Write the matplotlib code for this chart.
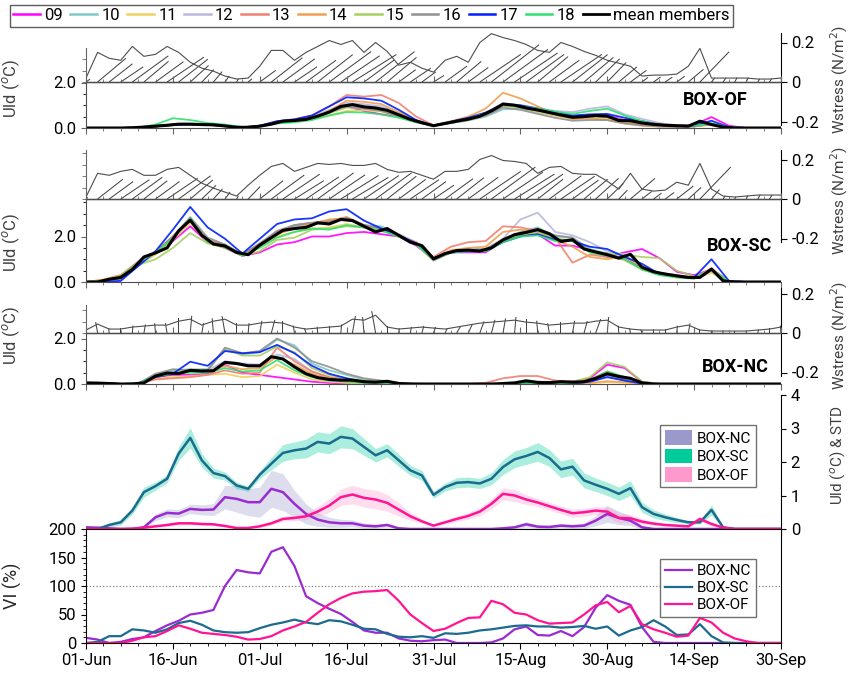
import numpy as np
import matplotlib.pyplot as plt
from matplotlib.lines import Line2D
from matplotlib.patches import Patch
from matplotlib.ticker import MultipleLocator

plt.rcParams['font.family'] = ['Roboto', 'DejaVu Sans']

# ---------------------------------------------------------------- data
days = np.arange(0, 121, 2)      # day since 01-Jun, every 2 days
days_m = np.arange(0, 121, 3)    # member series, every 3 days
tick_labels = ['01-Jun', '16-Jun', '01-Jul', '16-Jul', '31-Jul',
               '15-Aug', '30-Aug', '14-Sep', '30-Sep']

member_names = ['09', '10', '11', '12', '13', '14', '15', '16', '17', '18']
member_colors = ['#ff00ff', '#7fc8c8', '#f0d060', '#b8b8e0', '#f08070',
                 '#f0a050', '#a8d060', '#909090', '#0020ff', '#30e070']

# BOX-OF members
of_members = [
    [0,0,0,0.02,0.07,0.14,0.16,0.15,0.08,0.03, 0.07,0.24,0.3,0.42,0.7,0.95,0.75,0.6,0.5,0.3,
     0.1,0.25,0.38,0.6,1.0,0.95,0.8,0.62,0.5,0.55, 0.55,0.35,0.2,0.1,0.08,0.15,0.48,0.1,0,0, 0],
    [0,0,0,0.02,0.08,0.14,0.16,0.14,0.08,0.03, 0.08,0.25,0.32,0.45,0.72,1.0,0.9,0.8,0.55,0.28,
     0.1,0.22,0.33,0.5,0.82,0.85,0.7,0.55,0.42,0.48, 0.45,0.3,0.18,0.12,0.08,0.08,0.18,0.02,0,0, 0],
    [0,0,0,0.02,0.07,0.13,0.15,0.14,0.08,0.03, 0.07,0.22,0.28,0.38,0.55,0.75,0.78,0.72,0.5,0.26,
     0.1,0.22,0.36,0.6,1.05,0.9,0.72,0.55,0.4,0.45, 0.4,0.25,0.15,0.1,0.08,0.07,0.15,0.02,0,0, 0],
    [0,0,0,0.03,0.08,0.15,0.17,0.16,0.1,0.04, 0.09,0.28,0.35,0.5,0.8,1.1,1.05,0.95,0.65,0.33,
     0.12,0.26,0.4,0.65,1.1,1.0,0.88,0.75,0.7,0.85, 0.95,0.6,0.4,0.22,0.12,0.1,0.2,0.03,0,0, 0],
    [0,0,0,0.03,0.09,0.16,0.18,0.16,0.1,0.04, 0.1,0.3,0.38,0.55,0.95,1.45,1.38,1.45,1.1,0.5,
     0.12,0.25,0.38,0.6,1.0,0.98,0.8,0.6,0.45,0.5, 0.5,0.3,0.15,0.1,0.07,0.08,0.18,0.02,0,0, 0],
    [0,0,0,0.03,0.08,0.15,0.17,0.15,0.09,0.03, 0.08,0.26,0.35,0.45,0.75,1.2,1.15,1.05,0.7,0.32,
     0.12,0.3,0.5,0.85,1.55,1.3,0.95,0.6,0.4,0.42, 0.35,0.2,0.1,0.06,0.05,0.07,0.15,0.02,0,0, 0],
    [0,0,0,0.02,0.07,0.13,0.15,0.14,0.08,0.03, 0.07,0.23,0.3,0.42,0.65,0.9,0.85,0.78,0.52,0.27,
     0.1,0.23,0.37,0.58,0.98,0.9,0.76,0.6,0.48,0.52, 0.5,0.32,0.2,0.12,0.08,0.09,0.2,0.02,0,0, 0],
    [0,0,0,0.02,0.07,0.14,0.16,0.14,0.08,0.03, 0.08,0.25,0.32,0.45,0.7,0.95,0.85,0.75,0.5,0.27,
     0.1,0.22,0.35,0.55,0.9,0.8,0.62,0.45,0.32,0.35, 0.35,0.2,0.12,0.07,0.05,0.07,0.18,0.02,0,0, 0],
    [0,0,0,0.02,0.07,0.14,0.16,0.15,0.09,0.03, 0.1,0.3,0.38,0.55,0.95,1.35,1.3,1.2,0.8,0.35,
     0.1,0.28,0.45,0.68,1.05,1.0,0.85,0.7,0.55,0.6, 0.62,0.45,0.3,0.15,0.1,0.1,0.32,0.04,0,0, 0],
    [0,0,0,0.02,0.15,0.43,0.35,0.22,0.15,0.04, 0.06,0.2,0.25,0.35,0.55,0.7,0.68,0.6,0.45,0.25,
     0.1,0.25,0.4,0.65,1.05,0.95,0.85,0.72,0.62,0.75, 0.85,0.55,0.3,0.15,0.1,0.1,0.2,0.02,0,0, 0],
]

# BOX-SC members
sc_members = [
    [0,0.05,0.25,0.85,1.25,1.8,2.45,1.75,1.5,1.15, 1.3,1.65,1.75,2.0,2.0,2.15,2.2,2.1,2.0,1.6,
     1.0,1.3,1.3,1.3,1.8,2.05,2.1,1.6,1.6,1.4, 1.1,1.3,1.45,1.05,0.45,0.3,0.55,0.05,0,0, 0],
    [0,0.02,0.12,0.7,1.25,1.95,2.75,1.8,1.6,1.2, 1.65,2.15,2.45,2.55,2.6,2.85,2.5,2.45,2.1,1.7,
     1.0,1.3,1.4,1.45,1.85,2.2,2.4,2.0,1.95,1.45, 1.25,1.0,0.6,0.35,0.25,0.2,0.45,0.02,0,0, 0],
    [0,0.05,0.2,0.8,1.2,1.85,2.6,1.75,1.55,1.2, 1.55,2.0,2.2,2.35,2.4,2.55,2.4,2.3,2.0,1.65,
     0.95,1.3,1.35,1.4,1.8,2.1,2.2,1.9,1.85,1.3, 1.15,0.95,0.55,0.35,0.2,0.15,0.4,0.02,0,0, 0],
    [0,0.02,0.18,0.75,1.3,2.0,2.8,1.85,1.65,1.2, 1.7,2.2,2.5,2.6,2.7,2.8,2.5,2.35,2.1,1.75,
     1.05,1.35,1.45,1.45,1.9,2.75,3.05,2.2,2.05,1.75, 1.35,1.2,0.6,0.4,0.3,0.2,0.5,0.02,0,0, 0],
    [0,0.1,0.3,0.9,1.35,2.0,2.75,1.85,1.6,1.2, 1.65,2.2,2.5,2.6,2.7,2.85,2.5,2.3,2.0,1.75,
     1.1,1.55,1.75,1.8,2.45,2.4,2.25,1.95,0.85,1.2, 1.1,1.0,0.6,0.4,0.25,0.2,0.6,0.02,0,0, 0],
    [0,0.1,0.3,0.85,1.3,1.95,2.7,1.8,1.55,1.2, 1.6,2.1,2.35,2.55,2.75,2.8,2.5,2.3,2.0,1.7,
     1.05,1.4,1.5,1.55,2.2,2.3,2.2,1.85,1.55,1.1, 1.0,1.15,0.55,0.35,0.25,0.15,0.55,0.02,0,0, 0],
    [0,0.05,0.2,0.75,1.0,1.5,2.15,1.7,1.5,1.15, 1.35,1.85,1.95,2.3,2.35,2.45,2.4,2.3,2.05,1.65,
     0.95,1.3,1.35,1.35,1.8,2.05,2.2,1.9,1.8,1.4, 1.25,1.2,1.1,1.05,0.5,0.25,0.5,0.03,0,0, 0],
    [0,0.03,0.15,0.75,1.3,2.0,2.85,1.95,1.65,1.2, 1.7,2.25,2.5,2.6,2.65,2.8,2.5,2.35,2.05,1.7,
     0.95,1.3,1.4,1.45,1.85,2.15,2.35,2.05,1.95,1.35, 1.25,1.0,0.6,0.4,0.3,0.2,0.5,0.02,0,0, 0],
    [0,0,0.05,0.7,1.35,2.3,3.3,2.4,1.9,1.25, 1.9,2.55,2.75,2.8,3.1,3.2,2.7,2.35,2.05,1.7,
     1.05,1.3,1.35,1.35,1.75,2.0,2.1,1.85,1.8,1.55, 1.45,1.1,0.8,0.35,0.25,0.2,1.0,0.05,0,0, 0],
    [0,0.05,0.25,0.85,1.3,1.9,2.8,1.75,1.55,1.15, 1.5,1.95,2.2,2.35,2.3,2.5,2.4,2.25,2.0,1.65,
     1.0,1.3,1.35,1.35,1.75,2.0,2.05,1.8,1.8,1.3, 1.15,1.0,0.55,0.3,0.2,0.15,0.55,0.02,0,0, 0],
]

# BOX-NC members
nc_members = [
    [0.05,0.03,0,0.02,0.3,0.4,0.4,0.45,0.85,0.5, 0.4,0.3,0.2,0.1,0.05,0.02,0.01,0,0,0,
     0,0,0,0,0,0.02,0.05,0.05,0.05,0.25, 0.85,0.7,0.1,0,0,0,0,0,0,0, 0],
    [0.05,0.03,0,0.02,0.4,0.6,0.65,0.65,1.5,1.3, 1.4,1.95,1.7,0.9,0.6,0.4,0.2,0.12,0.05,0,
     0,0,0,0,0,0.02,0.05,0.03,0.03,0.1, 0.35,0.15,0.02,0,0,0,0,0,0,0, 0],
    [0.05,0.03,0,0.02,0.25,0.3,0.35,0.4,0.45,0.3, 0.35,0.85,0.5,0.2,0.1,0.05,0.02,0.01,0,0,
     0,0,0,0,0,0.02,0.03,0.02,0.02,0.03, 0.08,0.05,0.01,0,0,0,0,0,0,0, 0],
    [0.05,0.03,0,0.02,0.35,0.5,0.6,0.6,1.0,0.9, 0.85,1.3,1.1,0.55,0.3,0.2,0.12,0.08,0.03,0,
     0,0,0,0,0,0.02,0.05,0.03,0.03,0.1, 0.35,0.2,0.03,0,0,0,0,0,0,0, 0],
    [0.05,0.03,0,0.02,0.2,0.25,0.3,0.4,0.6,0.45, 0.5,1.6,1.0,0.55,0.3,0.2,0.1,0.05,0.02,0,
     0,0,0,0.05,0.25,0.35,0.35,0.15,0.12,0.2, 0.55,0.3,0.05,0,0,0,0,0,0,0, 0],
    [0.05,0.03,0,0.02,0.3,0.45,0.55,0.55,0.8,0.65, 0.7,1.2,0.85,0.45,0.25,0.15,0.1,0.05,0.02,0,
     0,0,0,0,0,0.02,0.05,0.03,0.03,0.05, 0.12,0.08,0.02,0,0,0,0,0,0,0, 0],
    [0.05,0.03,0,0.02,0.4,0.5,0.6,0.6,1.55,1.25, 1.25,1.65,1.4,0.7,0.4,0.25,0.15,0.1,0.05,0.02,
     0,0,0,0,0.02,0.05,0.1,0.08,0.1,0.3, 0.95,0.75,0.1,0,0,0,0,0,0,0, 0],
    [0.05,0.03,0,0.02,0.45,0.65,0.6,0.6,1.6,1.35, 1.45,2.0,1.6,1.0,0.75,0.45,0.25,0.15,0.05,0,
     0,0,0,0,0,0.02,0.08,0.05,0.05,0.15, 0.4,0.2,0.03,0,0,0,0,0,0,0, 0],
    [0.05,0.03,0,0.02,0.3,0.45,0.98,0.8,1.45,1.35, 1.4,1.72,1.35,0.8,0.45,0.25,0.08,0.03,0.02,0,
     0,0,0,0,0,0.02,0.05,0.02,0.02,0.1, 0.3,0.15,0.02,0,0,0,0,0,0,0, 0],
    [0.05,0.03,0,0.02,0.35,0.45,0.5,0.5,0.7,0.55, 0.6,1.05,0.6,0.3,0.15,0.1,0.05,0.02,0.01,0,
     0,0,0,0,0,0.02,0.05,0.03,0.05,0.15, 0.55,0.3,0.05,0,0,0,0,0,0,0, 0],
]

# ensemble means (deg C)
of_mean = [0,0,0,0,0.01,0.04,0.08,0.12,0.17,0.17, 0.15,0.14,0.09,0.03,0.03,0.08,0.17,0.3,0.33,0.38,
           0.52,0.7,0.95,1.03,0.93,0.88,0.78,0.58,0.38,0.23, 0.1,0.2,0.3,0.39,0.52,0.75,1.05,1.0,0.88,0.79,
           0.68,0.57,0.47,0.5,0.55,0.52,0.33,0.32,0.22,0.16, 0.12,0.1,0.08,0.3,0.15,0.04,0,0,0,0, 0]
sc_mean = [0,0,0.12,0.2,0.55,1.1,1.28,1.5,2.25,2.72, 2.05,1.67,1.58,1.3,1.2,1.62,1.95,2.27,2.35,2.4,
           2.6,2.55,2.75,2.7,2.45,2.2,2.35,2.05,1.75,1.6, 1.02,1.25,1.38,1.4,1.36,1.5,1.85,2.08,2.18,2.3,
           2.12,1.78,1.86,1.45,1.32,1.2,1.05,1.22,0.65,0.45, 0.35,0.27,0.2,0.2,0.57,0.05,0,0,0,0, 0]
nc_mean = [0.05,0.04,0.02,0,0,0.05,0.35,0.48,0.46,0.6, 0.57,0.58,0.95,0.9,0.8,0.8,1.2,1.1,0.75,0.45,
           0.28,0.2,0.17,0.17,0.1,0.08,0.12,0.02,0,0, 0,0,0,0,0,0,0.02,0.05,0.14,0.07,
           0.06,0.1,0.08,0.1,0.25,0.45,0.33,0.25,0.05,0, 0,0,0,0,0,0,0,0,0,0, 0]

# ensemble standard deviation (deg C)
of_std = [0,0,0,0,0.01,0.02,0.03,0.05,0.05,0.05, 0.04,0.04,0.03,0.02,0.02,0.03,0.05,0.07,0.08,0.1,
          0.15,0.2,0.25,0.28,0.28,0.28,0.25,0.2,0.12,0.06, 0.03,0.05,0.08,0.1,0.12,0.15,0.18,0.18,0.15,0.12,
          0.12,0.12,0.12,0.12,0.12,0.15,0.15,0.12,0.08,0.05, 0.04,0.03,0.03,0.08,0.06,0.02,0,0,0,0, 0]
sc_std = [0,0.02,0.06,0.08,0.1,0.15,0.12,0.12,0.2,0.3, 0.2,0.15,0.12,0.1,0.08,0.12,0.18,0.25,0.25,0.28,
          0.3,0.3,0.33,0.3,0.25,0.2,0.2,0.18,0.15,0.15, 0.1,0.12,0.15,0.15,0.15,0.18,0.22,0.25,0.25,0.28,
          0.25,0.25,0.25,0.22,0.2,0.2,0.2,0.22,0.15,0.12, 0.1,0.07,0.05,0.05,0.15,0.03,0,0,0,0, 0]
nc_std = [0.02,0.02,0.01,0,0,0.03,0.1,0.12,0.12,0.14, 0.15,0.18,0.35,0.4,0.4,0.45,0.55,0.55,0.4,0.3,
          0.2,0.15,0.12,0.1,0.08,0.06,0.06,0.02,0,0, 0,0,0,0,0,0.01,0.03,0.05,0.08,0.05,
          0.05,0.06,0.06,0.08,0.15,0.25,0.2,0.15,0.05,0.01, 0,0,0,0,0,0,0,0,0,0, 0]

# variability index (%)
nc_vi = [9,6,0,2,7,10,21,31,39,50, 53,58,100,128,124,122,160,168,135,82,
         70,60,51,37,22,18,18,8,4,3, 5,6,0,0,0,1,8,24,29,14,
         13,21,12,28,62,84,74,67,28,2, 0,0,0,0,0,0,0,0,0,0, 0]
sc_vi = [0,2,12,12,24,22,18,24,35,39, 32,22,19,18,19,26,32,36,41,36,
         33,40,38,32,25,24,16,11,10,12, 9,17,16,18,22,24,27,30,31,29,
         29,27,28,30,25,29,13,22,28,40, 29,14,15,33,12,1,0,0,0,0, 0]
of_vi = [0,0,0,0,4,10,12,21,31,25, 18,16,14,11,6,7,12,22,29,37,
         53,68,79,87,90,91,93,74,50,35, 21,25,35,44,45,74,68,53,50,40,
         34,35,36,50,66,72,54,65,33,24, 18,11,13,44,36,18,8,3,0,0, 0]

# wind stress magnitude (N/m2) and direction (deg from east)
of_mag = [0.02,0.15,0.12,0.11,0.18,0.13,0.14,0.18,0.15,0.1, 0.07,0.055,0.03,0.015,0.02,0.08,0.16,0.16,0.11,0.15,
          0.18,0.21,0.19,0.21,0.15,0.2,0.155,0.085,0.1,0.07, 0.05,0.11,0.13,0.1,0.2,0.245,0.225,0.21,0.19,0.16,
          0.15,0.2,0.18,0.155,0.135,0.11,0.095,0.08,0.03,0.035, 0.035,0.04,0.08,0.17,0.02,0.02,0.02,0.02,0.015,0.015, 0.02]
sc_mag = [0.01,0.13,0.12,0.14,0.15,0.12,0.12,0.15,0.16,0.12, 0.08,0.055,0.035,0.015,0.07,0.12,0.165,0.18,0.14,0.16,
          0.18,0.175,0.18,0.17,0.17,0.18,0.15,0.135,0.14,0.12, 0.1,0.14,0.14,0.15,0.2,0.22,0.195,0.19,0.18,0.13,
          0.16,0.165,0.13,0.125,0.125,0.09,0.05,0.13,0.05,0.04, 0.045,0.085,0.07,0.18,0.05,0.015,0.01,0.015,0.02,0.02, 0.02]
nc_mag = [0.015,0.045,0.02,0.02,0.03,0.035,0.04,0.04,0.06,0.07, 0.04,0.06,0.07,0.04,0.04,0.05,0.055,0.05,0.03,0.02,
          0.025,0.03,0.035,0.07,0.065,0.09,0.03,0.02,0.025,0.03, 0.025,0.02,0.03,0.04,0.05,0.055,0.06,0.065,0.055,0.05,
          0.04,0.045,0.05,0.05,0.06,0.065,0.03,0.02,0.015,0.015, 0.015,0.03,0.04,0.015,0.01,0.01,0.01,0.01,0.015,0.02, 0.03]
of_dir = [36,40,38,34,36,40,36,34,38,42, 46,50,55,60,40,36,38,36,34,36,
          38,36,34,32,36,38,40,36,34,36, 32,36,40,36,34,38,36,34,36,40,
          36,34,38,40,44,46,40,36,38,36, 34,36,40,46,50,55,60,65,60,55, 55]
sc_dir = [40,38,36,34,36,38,36,34,36,40, 44,48,54,60,46,38,36,34,32,34,
          36,34,32,31,34,36,38,36,34,36, 34,36,38,36,34,36,34,32,34,38,
          36,34,36,40,42,44,46,40,38,36, 36,38,42,46,50,55,60,65,60,55, 55]
nc_dir = [120,100,95,90,85,80,95,100,90,85, 80,95,100,90,85,80,75,90,100,110,
          95,90,85,80,95,100,90,85,80,75, 70,65,60,65,70,75,80,85,90,95,
          100,90,80,75,70,85,95,100,110,95, 90,85,80,90,100,95,90,85,80,90, 95]

# ---------------------------------------------------------------- figure
FW, FH = 850, 674
fig = plt.figure(figsize=(FW / 100, FH / 100), dpi=100)
X0, X1 = 86, 781
L, W = X0 / FW, (X1 - X0) / FW
PX_W = 39.5 / 0.2     # pixels per N/m2
PX_U = 22.75          # pixels per deg C
TFS = 12


def rect(y_top, y_bot):
    return [L, 1 - y_bot / FH, W, (y_bot - y_top) / FH]


def style_x(ax, labels=False):
    ax.set_xlim(0, 120)
    ax.xaxis.set_major_locator(MultipleLocator(15))
    ax.xaxis.set_minor_locator(MultipleLocator(3))
    if labels:
        ax.set_xticks(np.arange(0, 121, 15), tick_labels)
    else:
        ax.tick_params(axis='x', labelbottom=False)


def box_panel(members, mean, mag, wdir, y_top, y_zero, y_bot, y_lspine,
              name, name_xy, ulab_y, wlab_y):
    # wind stress sticks on an axes covering the whole panel
    axr = fig.add_axes(rect(y_top, y_bot))
    axr.set_ylim(-(y_bot - y_zero) / PX_W, (y_zero - y_top) / PX_W)
    axr.set_xlim(0, 120)
    axr.patch.set_visible(False)
    for s in ['left', 'top', 'bottom']:
        axr.spines[s].set_visible(False)
    axr.spines['right'].set_bounds(-0.22, min(0.25, (y_zero - y_top) / PX_W))
    axr.xaxis.set_visible(False)
    axr.yaxis.tick_right()
    axr.set_yticks([-0.2, 0, 0.2], ['-0.2', '0', '0.2'])
    axr.tick_params(axis='y', labelsize=TFS, length=4)
    axr.set_ylabel('Wstress (N/m$^2$)', fontsize=11, color='0.25')
    axr.yaxis.set_label_position('right')
    axr.yaxis.set_label_coords(1.068, wlab_y)
    th = np.deg2rad(wdir)
    u = np.array(mag) * np.cos(th)
    v = np.array(mag) * np.sin(th)
    axr.quiver(days, np.zeros(len(days)), u, v, angles='uv', scale_units='y',
               scale=0.8, headwidth=0, headlength=0, headaxislength=0,
               width=1.0, units='dots', color='0.25')
    axr.plot(days, mag, color='0.3', lw=0.8)
    axr.axhline(0, color='0.2', lw=1.0)

    # upper left spine of the stick area
    axl = fig.add_axes(rect(y_lspine, y_zero))
    axl.set_ylim(0, (y_zero - y_lspine) / PX_U)
    axl.patch.set_visible(False)
    for s in ['right', 'top', 'bottom']:
        axl.spines[s].set_visible(False)
    axl.spines['left'].set_color('0.4')
    axl.set_xticks([])
    axl.set_yticks([])
    axl.yaxis.set_minor_locator(MultipleLocator(0.5))
    axl.tick_params(axis='y', which='minor', length=3, color='0.4')

    # upwelling index lines
    axu = fig.add_axes(rect(y_zero, y_bot))
    axu.patch.set_visible(False)
    axu.set_ylim(0, (y_bot - y_zero) / PX_U)
    axu.spines['right'].set_visible(False)
    for s in ['left', 'bottom', 'top']:
        axu.spines[s].set_color('0.3')
    style_x(axu)
    axu.tick_params(axis='x', which='both', top=True, color='0.4')
    axu.tick_params(axis='x', which='major', length=4)
    axu.tick_params(axis='x', which='minor', length=2)
    axu.set_yticks([0, 2], ['0.0', '2.0'])
    axu.yaxis.set_minor_locator(MultipleLocator(0.5))
    axu.tick_params(axis='y', labelsize=TFS, color='0.4')
    axu.set_ylabel('Uld ($^o$C)', fontsize=12, color='0.25')
    axu.yaxis.set_label_coords(-0.092, ulab_y)
    for m, c in zip(members, member_colors):
        axu.plot(days_m, m, color=c, lw=1.3, alpha=0.9)
    axu.plot(days, mean, color='black', lw=2.2)
    axu.text(name_xy[0], name_xy[1], name, transform=axu.transAxes,
             fontsize=13, fontweight='bold', ha='center', va='center')
    return axu


box_panel(of_members, of_mean, of_mag, of_dir, 32, 82, 128, 48,
          'BOX-OF', (0.905, 0.6), 0.87, 0.5)
box_panel(sc_members, sc_mean, sc_mag, sc_dir, 148, 199, 282, 150,
          'BOX-SC', (0.94, 0.43), 0.48, 0.61)
box_panel(nc_members, nc_mean, nc_mag, nc_dir, 288, 333, 384, 305,
          'BOX-NC', (0.934, 0.33), 0.96, 0.5)

# member legend across the top
handles = [Line2D([], [], color=c, lw=1.8) for c in member_colors]
handles.append(Line2D([], [], color='black', lw=2.0))
fig.legend(handles, member_names + ['mean members'], ncol=11,
           loc='upper left', bbox_to_anchor=(10 / FW, 1 - 5 / FH),
           fontsize=12, frameon=True, fancybox=False, edgecolor='0.2',
           handlelength=1.6, handletextpad=0.25, columnspacing=0.45,
           borderpad=0.2, borderaxespad=0)

# ---------------------------------------------------------------- means & std
box_fill = {'NC': '#9999cc', 'SC': '#00cc99', 'OF': '#ff99cc'}
box_line = {'NC': '#9a2bd1', 'SC': '#1b6b8f', 'OF': '#ff1493'}

axm = fig.add_axes(rect(395, 529))
axm.patch.set_visible(False)
axm.set_ylim(0, 4)
style_x(axm)
axm.spines['left'].set_visible(False)
axm.spines['top'].set_visible(False)
axm.yaxis.tick_right()
axm.set_yticks([0, 1, 2, 3, 4])
axm.tick_params(axis='y', labelsize=TFS)
axm.tick_params(axis='x', which='major', length=4)
axm.tick_params(axis='x', which='minor', length=2)
axm.set_ylabel('Uld ($^o$C) & STD', fontsize=11, color='0.25')
axm.yaxis.set_label_position('right')
axm.yaxis.set_label_coords(1.068, 0.55)

for key, mean, sd in [('NC', nc_mean, nc_std), ('SC', sc_mean, sc_std),
                      ('OF', of_mean, of_std)]:
    mu = np.array(mean)
    sd = np.array(sd)
    axm.fill_between(days, np.clip(mu - sd, 0, None), mu + sd,
                     color=box_fill[key], alpha=0.33, lw=0)
for key, mean in [('NC', nc_mean), ('SC', sc_mean), ('OF', of_mean)]:
    axm.plot(days, mean, color=box_line[key], lw=1.8)

axm.legend([Patch(facecolor=box_fill[k]) for k in ['NC', 'SC', 'OF']],
           ['BOX-NC', 'BOX-SC', 'BOX-OF'], loc='upper right',
           bbox_to_anchor=(0.975, 0.83), fontsize=11, fancybox=False,
           edgecolor='0.3', handlelength=1.8, handleheight=1.1,
           handletextpad=0.3, labelspacing=0.2, borderpad=0.3)

# ---------------------------------------------------------------- VI
axv = fig.add_axes(rect(529, 643))
axv.set_ylim(0, 200)
style_x(axv, labels=True)
axv.set_yticks([0, 50, 100, 150, 200])
axv.yaxis.set_minor_locator(MultipleLocator(10))
axv.tick_params(axis='both', labelsize=TFS)
axv.tick_params(axis='x', which='major', length=4)
axv.tick_params(axis='x', which='minor', length=2)
axv.axhline(100, color='0.5', lw=0.9, ls=':')
axv.set_ylabel('VI (%)', fontsize=13, color='0.15')
axv.yaxis.set_label_coords(-0.092, 0.5)
for key, vi in [('NC', nc_vi), ('SC', sc_vi), ('OF', of_vi)]:
    axv.plot(days, vi, color=box_line[key], lw=1.6, label='BOX-' + key)
axv.legend(loc='upper right', bbox_to_anchor=(0.975, 0.8), fontsize=11,
           fancybox=False, edgecolor='0.3', handlelength=1.8,
           handletextpad=0.3, labelspacing=0.2, borderpad=0.3)

fig.savefig('out.png', dpi=100)
